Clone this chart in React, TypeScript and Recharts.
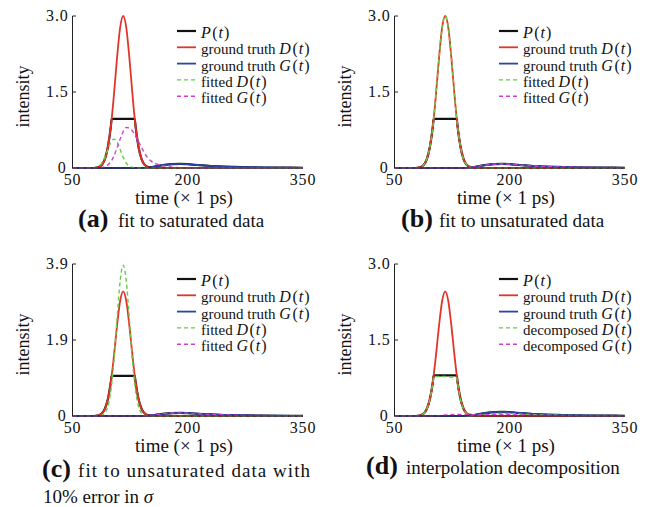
import React from 'react';
import { LineChart, Line, XAxis, YAxis, Legend } from 'recharts';

// sample times (ps)
const times = [50, 60, 70, 76, 80, 84, 88, 92, 96, 100, 101, 104, 108, 112, 116, 120, 124, 128, 131, 132, 136, 140, 144, 148, 152, 156, 160, 170, 180, 190, 200, 210, 220, 230, 240, 260, 280, 300, 320, 350];

// ground truth G(t), the same in every panel
const truthG = [0, 0, 0, 0, 0, 0, 0, 0, 0, 0, 0, 0, 0, 0, 0, 0, 0, 0, 0, 0, 0, 0, 0.002, 0.006, 0.014, 0.025, 0.036, 0.06, 0.076, 0.08, 0.075, 0.062, 0.05, 0.04, 0.032, 0.022, 0.015, 0.01, 0.007, 0.004];

// panels (a) and (b)
const pulseAB = [0, 0, 0, 0, 0.005, 0.018, 0.06, 0.17, 0.41, 0.83, 0.97, 0.97, 0.97, 0.97, 0.97, 0.97, 0.97, 0.97, 0.97, 0.83, 0.41, 0.17, 0.062, 0.024, 0.019, 0.025, 0.036, 0.06, 0.076, 0.08, 0.075, 0.062, 0.05, 0.04, 0.032, 0.022, 0.015, 0.01, 0.007, 0.004];
const truthDAB = [0, 0, 0, 0, 0.005, 0.018, 0.06, 0.17, 0.41, 0.83, 0.97, 1.46, 2.18, 2.77, 3.0, 2.77, 2.18, 1.46, 0.97, 0.83, 0.41, 0.17, 0.06, 0.018, 0.005, 0, 0, 0, 0, 0, 0, 0, 0, 0, 0, 0, 0, 0, 0, 0];
const fittedDA = [0, 0, 0, 0, 0.011, 0.036, 0.097, 0.21, 0.366, 0.51, 0.536, 0.57, 0.51, 0.366, 0.21, 0.097, 0.036, 0.011, 0.004, 0.002, 0, 0, 0, 0, 0, 0, 0, 0, 0, 0, 0, 0, 0, 0, 0, 0, 0, 0, 0, 0];
const fittedGA = [0, 0, 0, 0, 0, 0, 0.01, 0.025, 0.06, 0.13, 0.15, 0.24, 0.4, 0.57, 0.72, 0.8, 0.79, 0.73, 0.66, 0.63, 0.52, 0.4, 0.29, 0.2, 0.14, 0.1, 0.075, 0.04, 0.018, 0.007, 0.002, 0, 0, 0, 0, 0, 0, 0, 0, 0];

// panel (c)
const pulseC = [0, 0, 0, 0, 0.005, 0.019, 0.063, 0.18, 0.43, 0.89, 1.03, 1.03, 1.03, 1.03, 1.03, 1.03, 1.03, 1.03, 1.03, 0.89, 0.43, 0.18, 0.065, 0.025, 0.019, 0.025, 0.036, 0.06, 0.076, 0.08, 0.075, 0.062, 0.05, 0.04, 0.032, 0.022, 0.015, 0.01, 0.007, 0.004];
const truthDC = [0, 0, 0, 0, 0.005, 0.019, 0.063, 0.18, 0.43, 0.89, 1.04, 1.56, 2.32, 2.95, 3.2, 2.95, 2.32, 1.56, 1.04, 0.89, 0.43, 0.18, 0.063, 0.019, 0.005, 0, 0, 0, 0, 0, 0, 0, 0, 0, 0, 0, 0, 0, 0, 0];
const fittedDC = [0, 0, 0, 0, 0, 0.003, 0.017, 0.072, 0.24, 0.66, 0.82, 1.43, 2.49, 3.46, 3.87, 3.46, 2.49, 1.43, 0.82, 0.66, 0.24, 0.072, 0.017, 0.003, 0, 0, 0, 0, 0, 0, 0, 0, 0, 0, 0, 0, 0, 0, 0, 0];

// panel (d)
const pulseD = [0, 0, 0, 0, 0.004, 0.015, 0.049, 0.139, 0.33, 0.68, 0.8, 0.8, 0.8, 0.8, 0.8, 0.8, 0.8, 0.8, 0.8, 0.68, 0.33, 0.139, 0.051, 0.021, 0.018, 0.025, 0.036, 0.06, 0.076, 0.08, 0.075, 0.062, 0.05, 0.04, 0.032, 0.022, 0.015, 0.01, 0.007, 0.004];
const truthDD = [0, 0, 0, 0, 0.004, 0.015, 0.049, 0.139, 0.33, 0.68, 0.8, 1.2, 1.79, 2.27, 2.46, 2.27, 1.79, 1.2, 0.8, 0.68, 0.33, 0.139, 0.049, 0.015, 0.004, 0, 0, 0, 0, 0, 0, 0, 0, 0, 0, 0, 0, 0, 0, 0];
const decompDD = [0, 0, 0, 0, 0.004, 0.015, 0.049, 0.139, 0.33, 0.67, 0.78, 0.78, 0.78, 0.78, 0.78, 0.77, 0.77, 0.76, 0.75, 0.66, 0.32, 0.13, 0.045, 0.012, 0.004, 0.005, 0.01, 0.03, 0.045, 0.05, 0.048, 0.04, 0.032, 0.026, 0.02, 0.014, 0.01, 0.006, 0.004, 0.002];
const decompGD = [0, 0, 0, 0, 0, 0, 0, 0, 0, 0, 0, 0.003, 0.008, 0.014, 0.02, 0.024, 0.027, 0.029, 0.03, 0.03, 0.03, 0.03, 0.029, 0.028, 0.027, 0.026, 0.026, 0.027, 0.03, 0.03, 0.027, 0.022, 0.018, 0.014, 0.012, 0.008, 0.005, 0.004, 0.003, 0.002];

const xTicks = [50, 200, 350];
const yTicks = [0, 1.5, 3.0];
const yTickLabels = ['0', '1.5', '3.0'];
const yTicksC = [0, 1.95, 3.9];
const yTickLabelsC = ['0', '1.9', '3.9'];

const fitNames = ['P(t)', 'ground truth D(t)', 'ground truth G(t)', 'fitted D(t)', 'fitted G(t)'];
const decompNames = ['P(t)', 'ground truth D(t)', 'ground truth G(t)', 'decomposed D(t)', 'decomposed G(t)'];

const SERIF = '"Liberation Serif", "DejaVu Serif", serif';

const lineStyles = [
  { key: 'p', color: '#111111', width: 2.2, dash: undefined as string | undefined },
  { key: 'd', color: '#e3342b', width: 1.8, dash: undefined },
  { key: 'g', color: '#2d43a8', width: 1.8, dash: undefined },
  { key: 'fd', color: '#63cc45', width: 1.4, dash: '4 3' },
  { key: 'fg', color: '#cf3fcf', width: 1.4, dash: '4 3' },
];
const order = lineStyles.map(s => s.key);

function MathLabel({ x, y, text }: { x: number; y: number; text: string }) {
  const m = text.match(/^(.*?)([A-Z])\(t\)$/);
  if (!m) {
    return <text x={x} y={y} fontFamily={SERIF} fontSize={15}>{text}</text>;
  }
  return (
    <text x={x} y={y} fontFamily={SERIF} fontSize={15} fill="#111">
      {m[1]}
      <tspan fontStyle="italic" fontSize={16}>{m[2]}</tspan>
      <tspan fontSize={16} dx={1.5}>(</tspan>
      <tspan fontStyle="italic" fontSize={16} dx={1}>t</tspan>
      <tspan fontSize={16} dx={1}>)</tspan>
    </text>
  );
}

function renderLegend(props: any) {
  const items = [...(props.payload || [])].sort(
    (a: any, b: any) => order.indexOf(a.dataKey) - order.indexOf(b.dataKey)
  );
  return (
    <svg width={150} height={84} style={{ overflow: 'visible', display: 'block' }}>
      {items.map((item: any, i: number) => {
        const s = lineStyles.find(st => st.key === item.dataKey)!;
        const y = 8 + i * 16.3;
        return (
          <g key={item.dataKey}>
            <line x1={0} x2={19} y1={y - 2} y2={y - 2} stroke={s.color} strokeWidth={s.width} strokeDasharray={s.dash} />
            <MathLabel x={24} y={y + 5} text={String(item.value)} />
          </g>
        );
      })}
    </svg>
  );
}

const renderXTick = (p: any) => (
  <text x={p.x} y={p.y + 17} textAnchor="middle" fontFamily={SERIF} fontSize={16} letterSpacing={0.8} fill="#111">
    {p.payload.value}
  </text>
);

const makeYTick = (ticks: number[], labels: string[]) => (p: any) => {
  const idx = ticks.indexOf(p.payload.value);
  return (
    <g>
      {p.payload.value > 0 && <line x1={p.x + 4} x2={p.x + 7.5} y1={p.y} y2={p.y} stroke="#222" />}
      <text x={p.x - (p.payload.value === 0 ? 2 : 0)} y={p.y + 4.5} textAnchor="end" fontFamily={SERIF} fontSize={16} letterSpacing={0.8} fill="#111">
        {labels[idx]}
      </text>
    </g>
  );
};

type PanelProps = {
  left: number;
  top: number;
  series: number[][];
  names: string[];
  yMax: number;
  ticks: number[];
  tickLabels: string[];
  caption: React.ReactNode;
};

function Panel({ left, top, series, names, yMax, ticks, tickLabels, caption }: PanelProps) {
  const data = times.map((t, i) => ({
    t,
    p: series[0][i],
    d: series[1][i],
    g: series[2][i],
    fd: series[3][i],
    fg: series[4][i],
  }));

  return (
    <div style={{ position: 'absolute', left, top, width: 324, height: 259 }}>
      <LineChart width={324} height={210} data={data} margin={{ top: 16, right: 21, bottom: 0, left: 0 }}>
        <XAxis
          type="number"
          dataKey="t"
          domain={[50, 350]}
          ticks={xTicks}
          interval={0}
          height={42}
          tickSize={0}
          tickMargin={0}
          stroke="#222"
          tick={renderXTick}
        />
        <YAxis
          type="number"
          domain={[0, yMax]}
          ticks={ticks}
          interval={0}
          width={72.5}
          tickSize={0}
          tickMargin={4}
          stroke="#222"
          tick={makeYTick(ticks, tickLabels)}
        />
        <Legend
          layout="vertical"
          align="center"
          verticalAlign="middle"
          wrapperStyle={{ left: 176.5, top: 25, width: 150, height: 84 }}
          content={renderLegend}
        />
        {lineStyles.map((s, i) => (
          <Line
            key={s.key}
            dataKey={s.key}
            name={names[i]}
            type="monotone"
            stroke={s.color}
            strokeWidth={s.width}
            strokeDasharray={s.dash}
            dot={false}
            activeDot={false}
            isAnimationActive={false}
          />
        ))}
      </LineChart>
      <svg width={324} height={259} style={{ position: 'absolute', left: 0, top: 0, pointerEvents: 'none' }}>
        <text transform="translate(29,96.5) rotate(-90)" textAnchor="middle" fontFamily={SERIF} fontSize={18} fill="#111">
          intensity
        </text>
        <text x={184} y={204} textAnchor="middle" fontFamily={SERIF} fontSize={19} fill="#111">
          time (× 1 ps)
        </text>
        {caption}
      </svg>
    </div>
  );
}

function Caption({ tag, x, textX, y, text, width }: { tag: string; x: number; textX: number; y: number; text: string; width?: number }) {
  return (
    <g fill="#111" fontFamily={SERIF}>
      <text x={x} y={y} fontWeight="bold" fontSize={26}>({tag})</text>
      {width ? (
        <text x={textX} y={y} fontSize={19} textLength={width} lengthAdjust="spacing">{text}</text>
      ) : (
        <text x={textX} y={y} fontSize={19}>{text}</text>
      )}
    </g>
  );
}

export default function App() {
  return (
    <div style={{ position: 'absolute', left: 0, top: 0, width: 648, height: 507, background: '#fff', overflow: 'hidden' }}>
      <Panel
        left={0}
        top={0}
        series={[pulseAB, truthDAB, truthG, fittedDA, fittedGA]}
        names={fitNames}
        yMax={3.0}
        ticks={yTicks}
        tickLabels={yTickLabels}
        caption={<Caption tag="a" x={78} textX={118} y={227} text="fit to saturated data" />}
      />
      <Panel
        left={322}
        top={0}
        series={[pulseAB, truthDAB, truthG, truthDAB, truthG]}
        names={fitNames}
        yMax={3.0}
        ticks={yTicks}
        tickLabels={yTickLabels}
        caption={<Caption tag="b" x={79} textX={117} y={227} text="fit to unsaturated data" />}
      />
      <Panel
        left={0}
        top={248}
        series={[pulseC, truthDC, truthG, fittedDC, truthG]}
        names={fitNames}
        yMax={3.9}
        ticks={yTicksC}
        tickLabels={yTickLabelsC}
        caption={
          <g>
            <Caption tag="c" x={42} textX={78} y={229} text="fit to unsaturated data with" width={232} />
            <text x={43} y={255} fontFamily={SERIF} fontSize={19} fill="#111">
              10% error in <tspan fontStyle="italic">σ</tspan>
            </text>
          </g>
        }
      />
      <Panel
        left={322}
        top={248}
        series={[pulseD, truthDD, truthG, decompDD, decompGD]}
        names={decompNames}
        yMax={3.0}
        ticks={yTicks}
        tickLabels={yTickLabels}
        caption={<Caption tag="d" x={44} textX={84} y={226} text="interpolation decomposition" />}
      />
    </div>
  );
}
